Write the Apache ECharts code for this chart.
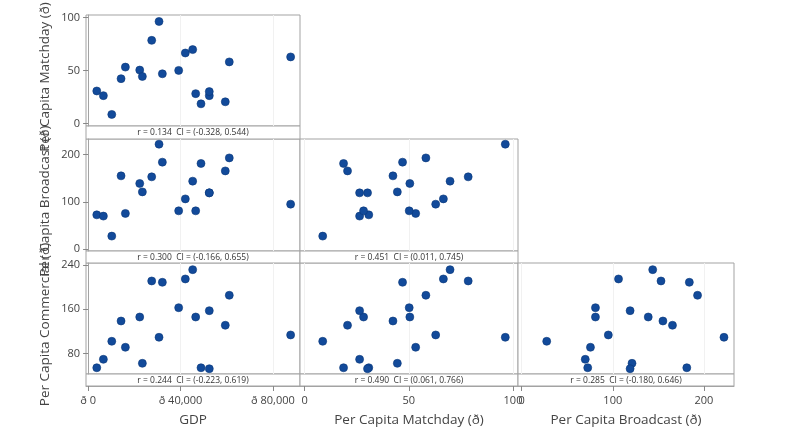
<!DOCTYPE html>
<html>
<head>
<meta charset="utf-8">
<script src="https://cdn.jsdelivr.net/npm/echarts@6/dist/echarts.min.js"></script>
<style>
  html, body { margin: 0; padding: 0; background: #ffffff; }
  #chart { width: 795px; height: 441px; }
</style>
</head>
<body>
<div id="chart"></div>
<script>
// Club revenue per capita against GDP, one value per club
const gdp        = [3760, 6620, 10250, 14270, 16140, 22350, 23490, 27530, 30700, 32140, 39200, 42080, 45260, 46560, 48860, 52450, 52450, 59370, 61100, 87650];
const matchday   = [30.8, 26.4, 8.7, 42.4, 53.3, 50.5, 44.5, 78.5, 96.3, 47.0, 50.2, 66.6, 69.8, 28.3, 18.7, 26.4, 30.2, 20.6, 58.2, 62.9];
const broadcast  = [72.5, 69.8, 27.5, 155.0, 75.5, 138.9, 121.1, 152.9, 222.0, 184.0, 81.0, 106.3, 143.8, 81.0, 181.2, 119.0, 119.0, 165.5, 193.0, 95.1];
const commercial = [54.7, 69.9, 102.4, 139.0, 91.6, 146.2, 62.7, 211.2, 109.6, 208.8, 163.0, 214.8, 231.6, 146.2, 54.7, 157.6, 52.9, 131.3, 185.4, 113.8];

// Tick values and labels
const gdpTicks = [0, 40000, 80000];
const gdpTickLabels = ['ð 0', 'ð 40,000', 'ð 80,000'];
const matchdayTicks = [0, 50, 100];
const broadcastTicks = [0, 100, 200];
const commercialTicks = [80, 160, 240];

// Correlation annotations, row by row
const corrLabels = [
  'r = 0.134  CI = (-0.328, 0.544)',
  'r = 0.300  CI = (-0.166, 0.655)',
  'r = 0.451  CI = (0.011, 0.745)',
  'r = 0.244  CI = (-0.223, 0.619)',
  'r = 0.490  CI = (0.061, 0.766)',
  'r = 0.285  CI = (-0.180, 0.646)'
];

const FONT = 'Open Sans';
const BORDER = '#a3a3a3';
const TEXT = '#444444';
const DOT = '#124a9a';

// Variables used on the matrix axes
const vars = {
  gdp:        { data: gdp,        min: -900,  max: 91700, ticks: gdpTicks,        fmt: v => gdpTickLabels[gdpTicks.indexOf(v)], title: 'GDP' },
  matchday:   { data: matchday,   min: -2.2,  max: 102.4, ticks: matchdayTicks,   fmt: v => String(v), title: 'Per Capita Matchday (ð)' },
  broadcast:  { data: broadcast,  min: -4,    max: 233,   ticks: broadcastTicks,  fmt: v => String(v), title: 'Per Capita Broadcast (ð)' },
  commercial: { data: commercial, min: 43.4,  max: 243.6, ticks: commercialTicks, fmt: v => String(v), title: 'Per Capita Commercial (ð)' }
};
const rowVars = ['matchday', 'broadcast', 'commercial'];
const colVars = ['gdp', 'matchday', 'broadcast'];

// Panel geometry
const colLeft = [86, 300, 518];
const colWidth = [214, 218, 216];
const rowTop = [15, 139, 263];
const rowHeight = [111, 112, 111];
const stripHeight = [13, 12, 12];

const panels = [];
for (let r = 0; r < 3; r++) for (let c = 0; c <= r; c++) panels.push([r, c]);

const grids = [], xAxes = [], yAxes = [], series = [], graphics = [];

panels.forEach(([r, c], i) => {
  const xv = vars[colVars[c]], yv = vars[rowVars[r]];
  const bottomRow = r === 2, leftCol = c === 0;
  grids.push({
    left: colLeft[c], top: rowTop[r], width: colWidth[c], height: rowHeight[r],
    show: true, borderColor: BORDER, borderWidth: 1, backgroundColor: '#ffffff',
    containLabel: false, outerBoundsMode: 'none'
  });
  xAxes.push({
    gridIndex: i, type: 'value', min: xv.min, max: xv.max, position: 'bottom',
    offset: stripHeight[r],
    axisLine: { show: bottomRow, lineStyle: { color: BORDER } },
    axisTick: { show: bottomRow, customValues: xv.ticks, length: 5, lineStyle: { color: '#888' } },
    axisLabel: { show: bottomRow, customValues: xv.ticks, formatter: xv.fmt, margin: 9,
                 color: TEXT, fontFamily: FONT, fontSize: 11 },
    splitLine: { show: true, lineStyle: { color: '#f1f1f1' } }
  });
  yAxes.push({
    gridIndex: i, type: 'value', min: yv.min, max: yv.max, position: 'left',
    axisLine: { show: leftCol, lineStyle: { color: BORDER } },
    axisTick: { show: leftCol, customValues: yv.ticks, length: 5, lineStyle: { color: '#888' } },
    axisLabel: { show: leftCol, customValues: yv.ticks, formatter: yv.fmt, margin: 6,
                 color: TEXT, fontFamily: FONT, fontSize: 11 },
    splitLine: { show: false }
  });
  series.push({
    type: 'scatter', xAxisIndex: i, yAxisIndex: i,
    data: xv.data.map((x, k) => [x, yv.data[k]]),
    symbol: 'circle', symbolSize: 8,
    itemStyle: { color: DOT, opacity: 1, borderColor: '#0a3878', borderWidth: 0.6 },
    silent: true
  });
  // correlation strip under each panel
  graphics.push({
    type: 'rect',
    shape: { x: colLeft[c], y: rowTop[r] + rowHeight[r], width: colWidth[c], height: stripHeight[r] },
    style: { fill: '#ffffff', stroke: BORDER, lineWidth: 1 }
  });
  graphics.push({
    type: 'text',
    x: colLeft[c] + colWidth[c] / 2, y: rowTop[r] + rowHeight[r] + stripHeight[r] / 2 + 0.5,
    style: { text: corrLabels[i], fill: '#333', font: '8.5px "' + FONT + '"', align: 'center', verticalAlign: 'middle' }
  });
});

// Axis titles
colVars.forEach((v, c) => {
  graphics.push({
    type: 'text', x: colLeft[c] + colWidth[c] / 2, y: 420,
    style: { text: vars[v].title, fill: TEXT, font: '13.5px "' + FONT + '"', align: 'center', verticalAlign: 'middle' }
  });
});
rowVars.forEach((v, r) => {
  graphics.push({
    type: 'text', x: 45, y: rowTop[r] + (rowHeight[r] + stripHeight[r]) / 2, rotation: Math.PI / 2,
    style: { text: vars[v].title, fill: TEXT, font: '13.5px "' + FONT + '"', align: 'center', verticalAlign: 'middle' }
  });
});

const chart = echarts.init(document.getElementById('chart'), null, { renderer: 'canvas' });
chart.setOption({
  backgroundColor: '#ffffff',
  animation: false,
  grid: grids,
  xAxis: xAxes,
  yAxis: yAxes,
  series: series,
  graphic: { elements: graphics }
});
</script>
</body>
</html>
